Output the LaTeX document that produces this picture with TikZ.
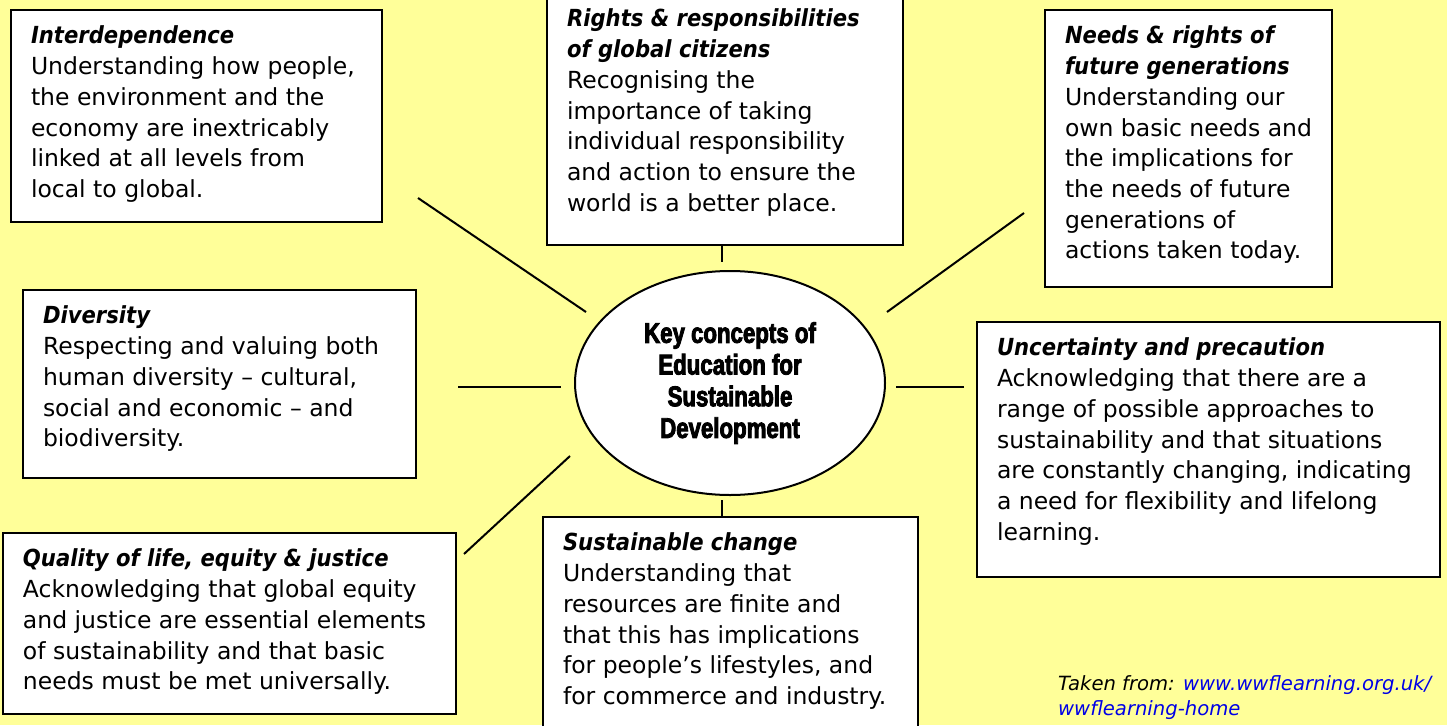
\documentclass[tikz,border=0pt]{standalone}
\usepackage{fontspec}
\setmainfont{DejaVu Sans}
\newfontfamily\titlefont[FakeStretch=0.9]{DejaVu Sans}
\newfontfamily\hubfont[FakeStretch=0.78,BoldFeatures={FakeBold=3}]{Liberation Sans}
\usetikzlibrary{shapes.geometric,calc}
\definecolor{paper}{HTML}{FFFF99}
\definecolor{linkblue}{HTML}{0000E6}

% box text: width, height, title, body
\newcommand{\concept}[4]{\parbox[c][#2][t]{#1}{\strut{\titlefont\bfseries\itshape #3}\\#4}}

\begin{document}
\begin{tikzpicture}[x=1pt,y=-1pt,
    box/.style={draw,line width=2pt,fill=white,anchor=north west,outer sep=0pt,inner xsep=20pt,inner ysep=12.5pt,font=\fontsize{23.5}{30.7}\selectfont},
    hub/.style={ellipse,draw,line width=2pt,fill=white,outer sep=0pt,inner sep=0pt,minimum width=310pt,minimum height=224pt,align=center,font=\hubfont\bfseries\fontsize{28.5}{31.7}\selectfont},
    spoke/.style={line width=2pt}]
    \useasboundingbox (0,0) rectangle (1447,725);
    \clip (0,0) rectangle (1447,725);
    \fill[paper] (0,0) rectangle (1447,725);

    \node[hub] (hub) at (730,383) {Key concepts of\\Education for\\Sustainable\\Development};

    \node[box] (inter) at (11,10) {\concept{331pt}{187pt}{Interdependence}{Understanding how people,\\the environment and the\\economy are inextricably\\linked at all levels from\\local to global.}};
    \node[box] (rights) at (547,-7) {\concept{316pt}{227pt}{Rights \& responsibilities\\of global citizens}{Recognising the\\importance of taking\\individual responsibility\\and action to ensure the\\world is a better place.}};
    \node[box] (needs) at (1045,10) {\concept{247pt}{252pt}{Needs \& rights of\\future generations}{Understanding our\\own basic needs and\\the implications for\\the needs of future\\generations of\\actions taken today.}};
    \node[box] (divers) at (23,290) {\concept{353pt}{163pt}{Diversity}{Respecting and valuing both\\human diversity – cultural,\\social and economic – and\\biodiversity.}};
    \node[box] (uncert) at (977,322) {\concept{423pt}{230pt}{Uncertainty and precaution}{Acknowledging that there are a\\range of possible approaches to\\sustainability and that situations\\are constantly changing, indicating\\a need for flexibility and lifelong\\learning.}};
    \node[box] (quality) at (3,533) {\concept{413pt}{156pt}{Quality of life, equity \& justice}{Acknowledging that global equity\\and justice are essential elements\\of sustainability and that basic\\needs must be met universally.}};
    \node[box] (sustch) at (543,517) {\concept{335pt}{203pt}{Sustainable change}{Understanding that\\resources are finite and\\that this has implications\\for people’s lifestyles, and\\for commerce and industry.}};

    \node[anchor=north west,inner sep=0pt,align=left,font=\fontsize{19.6}{25}\selectfont\itshape] (source) at (1058,672.5) {\strut Taken from: \textcolor{linkblue}{www.wwflearning.org.uk/}\\\textcolor{linkblue}{wwflearning-home}};

    % spokes, with a gap at both ends
    \coordinate (inter-out) at ($(inter.south east)+(36,-24)$);
    \coordinate (inter-in) at ($(hub)+(-144,-71)$);
    \coordinate (rights-out) at ($(rights.south)+(-3,0)$);
    \coordinate (rights-in) at ($(rights.south)+(-3,17)$);
    \coordinate (needs-out) at ($(needs.south west)+(-21,-74)$);
    \coordinate (needs-in) at ($(hub)+(157,-71)$);
    \coordinate (divers-out) at ($(hub)+(-272,4)$);
    \coordinate (divers-in) at ($(hub)+(-169,4)$);
    \coordinate (uncert-out) at ($(hub)+(234,4)$);
    \coordinate (uncert-in) at ($(hub)+(166,4)$);
    \coordinate (quality-out) at ($(quality.north east)+(8,21)$);
    \coordinate (quality-in) at ($(hub)+(-160,73)$);
    \coordinate (sustch-out) at ($(sustch.north)+(-8.5,0)$);
    \coordinate (sustch-in) at ($(sustch.north)+(-8.5,-17)$);
    \foreach \c in {inter,rights,needs,divers,uncert,quality,sustch}
      \draw[spoke] (\c-out) -- (\c-in);
\end{tikzpicture}
\end{document}
